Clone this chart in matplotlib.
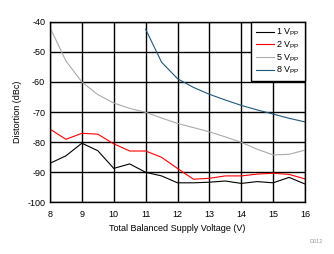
import matplotlib
matplotlib.use("Agg")
import matplotlib.pyplot as plt

plt.rcParams["font.family"] = ["Liberation Sans", "DejaVu Sans"]
plt.rcParams["axes.unicode_minus"] = False

# supply voltage steps (V)
volts = [8, 8.5, 9, 9.5, 10, 10.5, 11, 11.5, 12, 12.5, 13, 13.5, 14, 14.5, 15, 15.5, 16]
volts_8vpp = [11, 11.5, 12, 12.5, 13, 13.5, 14, 14.5, 15, 15.5, 16]

# distortion (dBc)
dist_1vpp = [-87.1, -84.6, -80.4, -82.9, -88.8, -87.3, -90.1, -91.3, -93.6, -93.6,
             -93.4, -93.0, -93.8, -93.2, -93.6, -91.8, -94.0]
dist_2vpp = [-75.7, -79.1, -77.1, -77.4, -80.6, -83.0, -83.0, -85.1, -88.8, -92.4,
             -92.1, -91.3, -91.3, -90.7, -90.4, -90.8, -92.3]
dist_5vpp = [-41.8, -53.0, -60.0, -64.2, -67.0, -68.8, -70.1, -72.0, -73.8, -75.2,
             -76.6, -78.3, -80.1, -82.4, -84.3, -84.1, -82.7]
dist_8vpp = [-42.4, -53.4, -58.9, -61.8, -64.1, -66.0, -67.8, -69.3, -70.7, -72.1, -73.3]

fs = 6.5
fig = plt.figure(figsize=(3.34, 2.54), dpi=100)
ax = fig.add_axes([0.1497, 0.2047, 0.7635, 0.7087])

ax.plot(volts, dist_1vpp, color="black", lw=0.8, label="1 V$_{\\mathregular{PP}}$")
ax.plot(volts, dist_2vpp, color="#ff0000", lw=0.8, label="2 V$_{\\mathregular{PP}}$")
ax.plot(volts, dist_5vpp, color="#aaaaaa", lw=0.8, label="5 V$_{\\mathregular{PP}}$")
ax.plot(volts_8vpp, dist_8vpp, color="#20587a", lw=0.8, label="8 V$_{\\mathregular{PP}}$")

ax.set_xlim(8, 16)
ax.set_ylim(-100, -40)
ax.set_xticks(range(8, 17))
ax.set_yticks(range(-100, -39, 10))
ax.grid(True, color="black", lw=1.0)
ax.tick_params(length=0, labelsize=fs)
ax.tick_params(axis="x", pad=6)
ax.tick_params(axis="y", pad=3.5)
for s in ax.spines.values():
    s.set_linewidth(1.0)

ax.set_xlabel("Total Balanced Supply Voltage (V)", fontsize=fs, labelpad=3)
ax.set_ylabel("Distortion (dBc)", fontsize=fs, labelpad=4)

leg = ax.legend(loc="upper right", bbox_to_anchor=(1, 1), borderaxespad=0,
                fontsize=fs, fancybox=False, framealpha=1, edgecolor="black",
                handlelength=2.0, handletextpad=0.3, labelspacing=0.13,
                borderpad=0.55)
leg.get_frame().set_linewidth(1.0)

fig.text(0.928, 0.045, "D012", fontsize=4, color="#999999")

fig.savefig("out.png", dpi=100)
